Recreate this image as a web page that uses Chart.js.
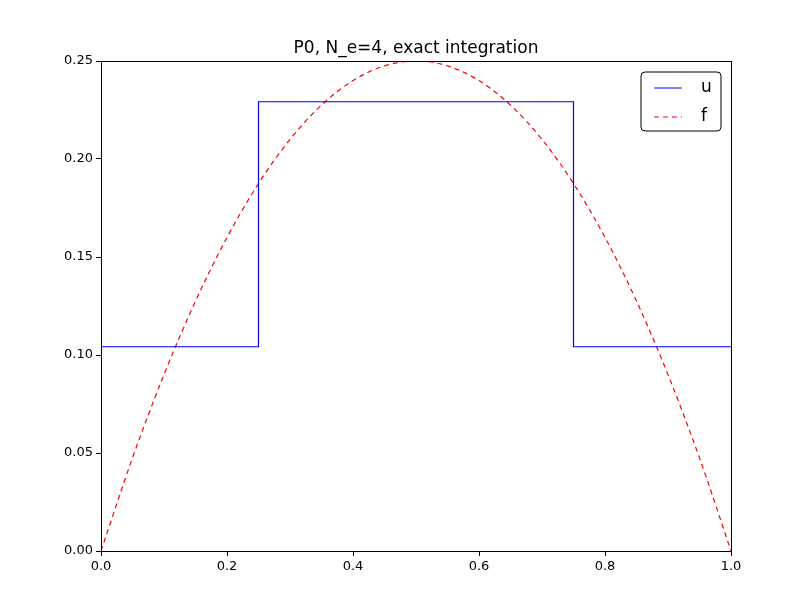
<!DOCTYPE html>
<html><head><meta charset="utf-8">
<script src="https://cdn.jsdelivr.net/npm/chart.js@4"></script>
<style>body{margin:0;background:#fff}</style>
</head><body><canvas id="c" width="800" height="600"></canvas>
<script>
// piecewise-constant u (P0 with 4 elements)
const uX = [0, 0.25, 0.25, 0.75, 0.75, 1.0];
const uY = [0.1042, 0.1042, 0.2292, 0.2292, 0.1042, 0.1042];
// f
const fX = [0, 0.05, 0.1, 0.15, 0.2, 0.25, 0.3, 0.35, 0.4, 0.45, 0.5, 0.55, 0.6, 0.65, 0.7, 0.75, 0.8, 0.85, 0.9, 0.95, 1.0];
const fY = [0, 0.0475, 0.09, 0.1275, 0.16, 0.1875, 0.21, 0.2275, 0.24, 0.2475, 0.25, 0.2475, 0.24, 0.2275, 0.21, 0.1875, 0.16, 0.1275, 0.09, 0.0475, 0];
const titleText = "P0, N_e=4, exact integration";
const font = "'DejaVu Sans', sans-serif";

const frame = {
  id: "frame",
  afterDraw(c) {
    const { ctx, chartArea: a } = c;
    ctx.save();
    ctx.strokeStyle = "#000"; ctx.lineWidth = 1;
    ctx.strokeRect(a.left + 0.5, a.top + 0.5, a.right - a.left, a.bottom - a.top);
    ctx.font = "17px " + font; ctx.fillStyle = "#000"; ctx.textAlign = "center";
    ctx.fillText(titleText, (a.left + a.right) / 2, a.top - 8);
    // legend
    const bx = 641, by = 72, bw = 80, bh = 59;
    ctx.fillStyle = "#fff";
    ctx.beginPath(); ctx.roundRect(bx, by, bw, bh, 4); ctx.fill(); ctx.stroke();
    c.data.datasets.forEach((d, i) => {
      const y = by + 16 + i * 29;
      ctx.strokeStyle = d.borderColor; ctx.setLineDash(d.borderDash || []);
      ctx.beginPath(); ctx.moveTo(bx + 13, y); ctx.lineTo(bx + 41, y); ctx.stroke();
      ctx.setLineDash([]);
      ctx.fillStyle = "#000"; ctx.font = "17px " + font; ctx.textAlign = "left"; ctx.textBaseline = "middle";
      ctx.fillText(d.label, bx + 60, y);
    });
    ctx.restore();
  }
};

new Chart(document.getElementById("c"), {
  type: "line",
  data: { datasets: [
    { label: "u", data: uX.map((x, i) => ({ x, y: uY[i] })), borderColor: "#0000ff", borderWidth: 1.2, pointRadius: 0, tension: 0 },
    { label: "f", data: fX.map((x, i) => ({ x, y: fY[i] })), borderColor: "#ff0000", borderWidth: 1.2, borderDash: [5, 4], pointRadius: 0, cubicInterpolationMode: "monotone" }
  ]},
  options: {
    responsive: false, animation: false, devicePixelRatio: 1,
    layout: { padding: { top: 61, right: 69, left: 0, bottom: 0 } },
    plugins: { legend: { display: false }, tooltip: { enabled: false } },
    scales: {
      x: { type: "linear", min: 0, max: 1,
        ticks: { stepSize: 0.2, color: "#000", font: { family: font, size: 13 }, callback: v => v.toFixed(1), maxRotation: 0 },
        grid: { drawOnChartArea: false, tickLength: 5, color: "#000" }, border: { display: false },
        afterFit: s => { s.height = 49; } },
      y: { min: 0, max: 0.25,
        ticks: { stepSize: 0.05, color: "#000", font: { family: font, size: 13 }, callback: v => v.toFixed(2) },
        grid: { drawOnChartArea: false, tickLength: 5, color: "#000" }, border: { display: false },
        afterFit: s => { s.width = 101; } }
    }
  },
  plugins: [frame]
});
</script></body></html>
